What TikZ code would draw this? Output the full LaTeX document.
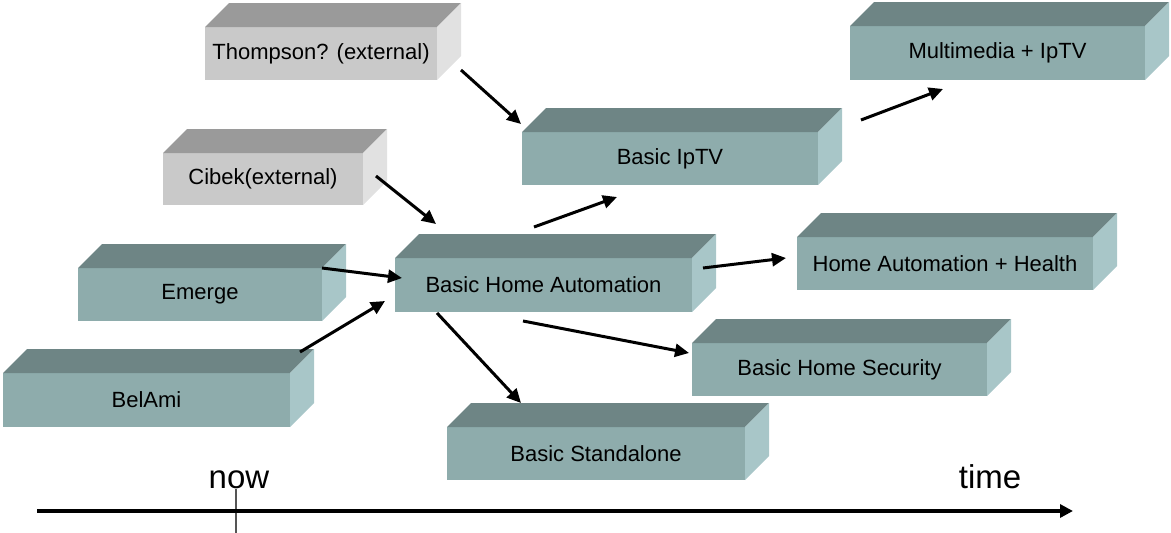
\documentclass[tikz,border=0pt]{standalone}
\usepackage{fontspec}
\setmainfont{Liberation Sans}
\usetikzlibrary{calc,arrows.meta}

\definecolor{tealfront}{HTML}{8EACAC}
\definecolor{tealtop}{HTML}{6E8585}
\definecolor{tealside}{HTML}{A8C6C8}
\definecolor{grayfront}{HTML}{C9C9C9}
\definecolor{graytop}{HTML}{9A9A9A}
\definecolor{grayside}{HTML}{E1E1E1}
\definecolor{tickgray}{HTML}{555555}

\tikzset{
  blockbase/.style={rectangle, anchor=north west, inner sep=0pt, outer sep=0pt,
    font=\fontsize{22}{26}\selectfont, text=black},
  tealblock/.style={blockbase, fill=tealfront},
  grayblock/.style={blockbase, fill=grayfront},
  flow/.style={line width=3pt, -{Triangle[length=14pt,width=13pt]}},
  axis/.style={line width=4pt, -{Triangle[length=13pt,width=13pt]}},
  axislabel/.style={anchor=base, font=\fontsize{33}{38}\selectfont}
}

% 3D slab: top and right faces behind the front node
\newcommand{\slabfaces}[3]{%
  \fill[#2] (#1.north west) -- ++(24,-24) -- ($(#1.north east)+(24,-24)$) -- (#1.north east) -- cycle;
  \fill[#3] (#1.north east) -- ++(24,-24) -- ($(#1.south east)+(24,-24)$) -- (#1.south east) -- cycle;
}

\begin{document}
\begin{tikzpicture}[x=1pt,y=-1pt]
\useasboundingbox (0,0) rectangle (1171,533);

% front faces
\node[grayblock, minimum width=232pt, minimum height=53pt] (thompson) at (205,27) {Thompson? (external)};
\node[tealblock, minimum width=295pt, minimum height=54pt] (multi) at (850,26) {Multimedia + IpTV};
\node[grayblock, minimum width=200pt, minimum height=52pt] (cibek) at (163,153) {Cibek(external)};
\node[tealblock, minimum width=296pt, minimum height=53pt] (iptv) at (522,132) {Basic IpTV};
\node[tealblock, minimum width=244pt, minimum height=53pt] (emerge) at (78,268) {Emerge};
\node[tealblock, minimum width=297pt, minimum height=54pt] (bha) at (395,258) {Basic Home Automation};
\node[tealblock, minimum width=296pt, minimum height=53pt] (health) at (797,237) {Home Automation + Health};
\node[tealblock, minimum width=287pt, minimum height=54pt] (belami) at (3,373) {BelAmi};
\node[tealblock, minimum width=295pt, minimum height=53pt] (security) at (692,343) {Basic Home Security};
\node[tealblock, minimum width=298pt, minimum height=53pt] (standalone) at (447,427) {Basic Standalone};

% top and side faces
\slabfaces{thompson}{graytop}{grayside}
\slabfaces{cibek}{graytop}{grayside}
\foreach \b in {multi,iptv,emerge,bha,health,belami,security,standalone}{
  \slabfaces{\b}{tealtop}{tealside}
}

% connectors
\draw[flow] ($(thompson.south east)+(24,-10)$) -- ($(iptv.north west)+(-1,-8)$);
\draw[flow] ($(iptv.north east)+(43,-12)$) -- ($(multi.south west)+(93,9)$);
\draw[flow] ($(cibek.east)+(13,-3)$) -- ($(bha.north west)+(41,-34)$);
\draw[flow] ($(bha.north)+(-9.5,-31)$) -- ($(iptv.south)+(-53,12)$);
\draw[flow] (emerge.north east) -- ($(bha.west)+(7,-7)$);
\draw[flow] ($(belami.north east)+(10,-21)$) -- ($(bha.south west)+(-10,-11)$);
\draw[flow] ($(bha.east)+(11,-17)$) -- ($(health.west)+(-11,-5.5)$);
\draw[flow] ($(bha.south)+(-20.5,9)$) -- ($(security.west)+(-3,-16.5)$);
\draw[flow] ($(bha.south west)+(42,1)$) -- ($(standalone.north west)+(74,-24)$);

% time axis
\coordinate (axstart) at (37,511);
\coordinate (axend) at (1073,511);
\coordinate (ticktop) at (236,489);
\coordinate (tickbot) at (236,533);
\draw[tickgray, line width=1.3pt] (ticktop) -- (tickbot);
\draw[axis] (axstart) -- (axend);
\node[axislabel] (now) at (239,488) {now};
\node[axislabel] (time) at (990,488) {time};
\end{tikzpicture}
\end{document}
